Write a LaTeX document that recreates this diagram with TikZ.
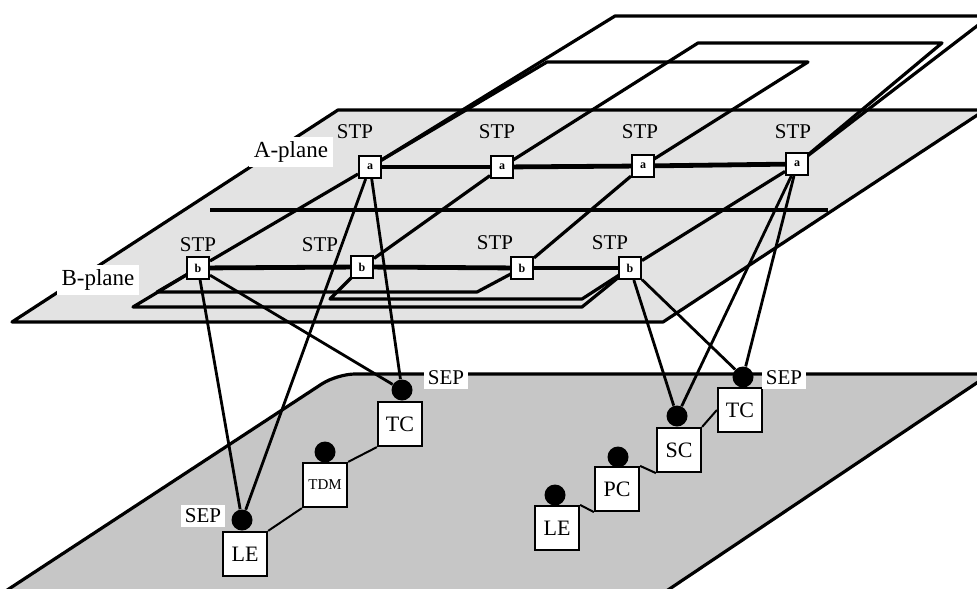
\documentclass[tikz,border=0pt]{standalone}
\usepackage{fontspec}
\setmainfont{Liberation Serif}

\begin{document}
\begin{tikzpicture}[x=0.5pt, y=-0.5pt,
        plane/.style={line width=1.6pt, line join=round},
        stp/.style={draw, fill=white, line width=1pt, minimum size=11pt, inner sep=0pt, font=\fontsize{6}{6}\selectfont\bfseries},
        sw/.style={draw, fill=white, line width=1.1pt, minimum size=22pt, inner sep=0pt, font=\fontsize{11}{12}\selectfont},
        sep/.style={circle, fill=black, minimum size=10.5pt, inner sep=0pt},
        tag/.style={font=\fontsize{10.5}{12}\selectfont, inner sep=1pt},
        planetag/.style={fill=white, font=\fontsize{11.5}{13}\selectfont, inner sep=2.5pt},
        link/.style={line width=1.4pt},
        trunk/.style={line width=2.4pt},
        tie/.style={line width=1pt}]
        \useasboundingbox (0,0) rectangle (977,588);
        \clip (0,0) rectangle (977,588);

        % lower plane
        \draw[plane, fill=gray!45] (-8,600) [rounded corners=9pt] -- (337,374) [sharp corners] -- (990,374) -- (653,600) -- cycle;

        % A-plane and the planes behind it
        \draw[plane, fill=gray!22] (12,322) -- (338,110) -- (985,110) -- (663,322) -- cycle;
        \draw[plane] (210,210) -- (828,210);
        \draw[plane] (370,167) -- (615,16) -- (990,16) -- (797,164);
        \draw[plane] (370,167) -- (547,62) -- (808,62) -- (643,166);
        \draw[plane] (502,167) -- (698,43) -- (942,43) -- (797,164);

        % B-plane
        \draw[plane] (198,268) -- (157,292) -- (477,292) -- (522,268);
        \draw[plane] (362,267) -- (330,299) -- (582,299) -- (630,268);
        \draw[plane] (198,268) -- (133,307) -- (582,307) -- (630,268);

        \node[planetag] at (291,152) (aplane) {A-plane};
        \node[planetag] at (98,280) (bplane) {B-plane};

        \node[stp] at (370,167) (a1) {a};
        \node[stp] at (502,167) (a2) {a};
        \node[stp] at (643,166) (a3) {a};
        \node[stp] at (797,164) (a4) {a};
        \node[stp] at (198,268) (b1) {b};
        \node[stp] at (362,267) (b2) {b};
        \node[stp] at (522,268) (b3) {b};
        \node[stp] at (630,268) (b4) {b};

        \node[tag] at (355,132) (ta1) {STP};
        \node[tag] at (497,132) (ta2) {STP};
        \node[tag] at (640,132) (ta3) {STP};
        \node[tag] at (793,132) (ta4) {STP};
        \node[tag] at (198,245) (tb1) {STP};
        \node[tag] at (320,245) (tb2) {STP};
        \node[tag] at (495,243) (tb3) {STP};
        \node[tag] at (610,243) (tb4) {STP};

        \node[sw] at (245,554) (le1) {LE};
        \node[sw, font=\fontsize{7.5}{8}\selectfont] at (325,485) (tdm) {TDM};
        \node[sw] at (400,424) (tc1) {TC};
        \node[sw] at (557,528) (le2) {LE};
        \node[sw] at (617,489) (pc) {PC};
        \node[sw] at (679,450) (sc) {SC};
        \node[sw] at (740,410) (tc2) {TC};

        \node[sep] at (242,520) (sle1) {};
        \node[sep] at (325,452) (stdm) {};
        \node[sep] at (402,390) (stc1) {};
        \node[sep] at (555,495) (sle2) {};
        \node[sep] at (618,457) (spc) {};
        \node[sep] at (677,416) (ssc) {};
        \node[sep] at (743,377) (stc2) {};

        \node[tag, fill=white, inner sep=2pt] at (203,516) (sep1) {SEP};
        \node[tag, fill=white, inner sep=2pt] at (446,378) (sep2) {SEP};
        \node[tag, fill=white, inner sep=2pt] at (784,378) (sep3) {SEP};

        \draw[trunk] (a1) -- (a2);
        \draw[trunk] (a2) -- (a3);
        \draw[trunk] (a3) -- (a4);
        \draw[trunk] (b1) -- (b2);
        \draw[trunk] (b2) -- (b3);
        \draw[trunk] (b3) -- (b4);

        \draw[plane] (b1) -- (a1);
        \draw[plane] (b2) -- (a2);
        \draw[plane] (b3) -- (a3);
        \draw[plane] (b4) -- (a4);

        \draw[link] (a1) -- (sle1);
        \draw[link] (b1) -- (sle1);
        \draw[link] (a1) -- (stc1);
        \draw[link] (b1) -- (stc1);
        \draw[link] (b4) -- (ssc);
        \draw[link] (a4) -- (ssc);
        \draw[link] (b4) -- (stc2);
        \draw[link] (a4) -- (stc2);

        \draw[tie] (le1.north east) -- (tdm.south west);
        \draw[tie] (tdm.north east) -- (tc1.south west);
        \draw[tie] (le2.north east) -- (pc.south west);
        \draw[tie] (pc.north east) -- (sc.south west);
        \draw[tie] (sc.north east) -- (tc2.west);
    \end{tikzpicture}
\end{document}
